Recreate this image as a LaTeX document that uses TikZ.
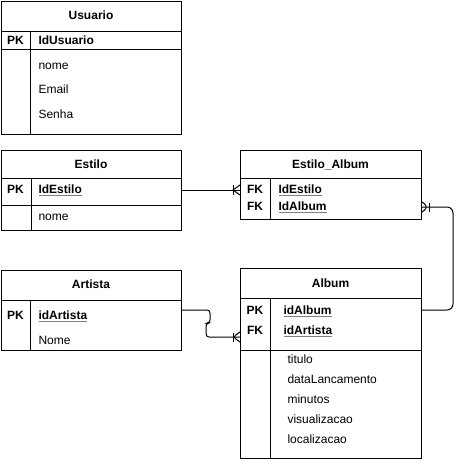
\documentclass[tikz,border=0pt]{standalone}
\usepackage{fontspec}
\setmainfont{Liberation Sans}
\usetikzlibrary{decorations.markings}
\newcommand{\keyname}[1]{\textcolor{gray}{\underline{\textcolor{black}{#1}}}}

\begin{document}
\begin{tikzpicture}[x=1pt, y=-1pt, line width=1pt,
        every node/.style={font=\fontsize{12}{14}\selectfont, inner sep=0pt,
                           text height=9pt, text depth=2.5pt},
        tablebox/.style={draw, anchor=north west},
        header/.style={font=\fontsize{12}{14}\selectfont\bfseries},
        keytag/.style={font=\fontsize{12}{14}\selectfont\bfseries},
        keyfield/.style={anchor=west, font=\fontsize{12}{14}\selectfont\bfseries},
        field/.style={anchor=west},
        crowsfoot/.style={postaction={decorate, decoration={markings,
            mark=at position 1 with {
                \draw[line width=1pt] (-7pt,-4.5pt) -- (-7pt,4.5pt);
                \draw[line width=1pt] (0pt,-5pt) -- (-7pt,0pt) -- (0pt,5pt);}}}}]
    \useasboundingbox (0,0) rectangle (461,462);

    % Usuario
    \node[tablebox, minimum width=180pt, minimum height=133pt] (usuario) at (1,1) {};
    \draw (1,32) -- (181,32);
    \draw (1,50) -- (181,50);
    \draw (30,32) -- (30,134);
    \node[header] (usuariotitle) at (91,16) {Usuario};
    \node[keytag] (usuariopk) at (15.5,41) {PK};
    \node[keyfield] (idusuario) at (38,41) {IdUsuario};
    \node[field] (usuarionome) at (38,66) {nome};
    \node[field] (usuarioemail) at (38,90) {Email};
    \node[field] (usuariosenha) at (38,115) {Senha};

    % Estilo
    \node[tablebox, minimum width=180pt, minimum height=80pt] (estilo) at (1,150) {};
    \draw (1,179) -- (181,179);
    \draw (1,205) -- (181,205);
    \draw (31,179) -- (31,230);
    \node[header] (estilotitle) at (91,165) {Estilo};
    \node[keytag] (estilopk) at (15.5,190) {PK};
    \node[keyfield] (idestilo) at (38,190) {\keyname{IdEstilo}};
    \node[field] (estilonome) at (38,217) {nome};

    % Estilo_Album
    \node[tablebox, minimum width=181pt, minimum height=69pt] (estiloalbum) at (240,150) {};
    \draw (240,179) -- (421,179);
    \draw (270,179) -- (270,219);
    \node[header] (estiloalbumtitle) at (330.5,165) {Estilo\_Album};
    \node[keytag] (eafkestilo) at (255,190) {FK};
    \node[keytag] (eafkalbum) at (255,207) {FK};
    \node[keyfield] (eaidestilo) at (278,190) {\keyname{IdEstilo}};
    \node[keyfield] (eaidalbum) at (278,207) {\keyname{IdAlbum}};

    % Artista
    \node[tablebox, minimum width=180pt, minimum height=80pt] (artista) at (1,270) {};
    \draw (1,300) -- (181,300);
    \draw (30,300) -- (30,350);
    \node[header] (artistatitle) at (91,285) {Artista};
    \node[keytag] (artistapk) at (15.5,316) {PK};
    \node[keyfield] (idartista) at (38,316) {\keyname{idArtista}};
    \node[field] (artistanome) at (38,341) {Nome};

    % Album
    \node[tablebox, minimum width=181pt, minimum height=190pt] (album) at (240,268) {};
    \draw (240,298) -- (421,298);
    \draw (240,350) -- (421,350);
    \draw (270,298) -- (270,458);
    \node[header] (albumtitle) at (330.5,284) {Album};
    \node[keytag] (albumpk) at (255,311) {PK};
    \node[keytag] (albumfk) at (255,331) {FK};
    \node[keyfield] (idalbum) at (283,311) {\keyname{idAlbum}};
    \node[keyfield] (albumidartista) at (283,331) {\keyname{idArtista}};
    \node[field] (titulo) at (287,360) {titulo};
    \node[field] (datalancamento) at (287,380) {dataLancamento};
    \node[field] (minutos) at (287,400) {minutos};
    \node[field] (visualizacao) at (287,420) {visualizacao};
    \node[field] (localizacao) at (287,440) {localizacao};

    % relations
    \draw[crowsfoot] ([yshift=-40pt]estilo.north east) -- ([yshift=-40pt]estiloalbum.north west);
    \draw[crowsfoot, rounded corners=3pt] ([yshift=-40pt]artista.north east)
        -| ++(28,13) -| ++(-4,14) -- ([yshift=-69pt]album.north west);
    \draw[crowsfoot, rounded corners=6pt] ([yshift=-42pt]album.north east)
        -- ++(31,0) |- ([yshift=-57pt]estiloalbum.north east);
\end{tikzpicture}
\end{document}
